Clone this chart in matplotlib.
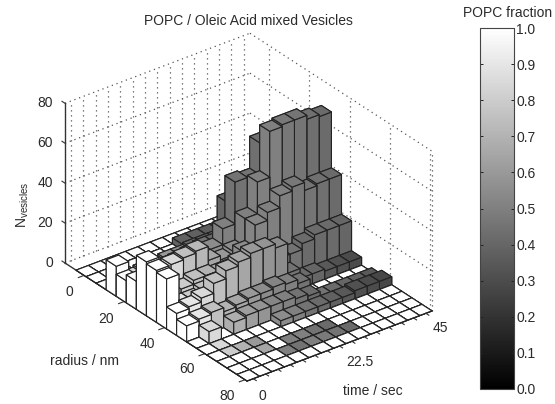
import numpy as np
import matplotlib
matplotlib.use('Agg')
import matplotlib.pyplot as plt
from mpl_toolkits.mplot3d import proj3d

plt.rcParams['font.family'] = ['Liberation Sans', 'DejaVu Sans']

radius_centers = [-1.5, 3.5, 8.5, 13.5, 18.5, 23.5, 28.5, 33.5, 38.5, 43.5, 48.5, 53.5, 58.5, 63.5, 68.5, 73.5, 78.5]
time_centers = [0, 3.214, 6.429, 9.643, 12.857, 16.071, 19.286, 22.5, 25.714, 28.929, 32.143, 35.357, 38.571, 41.786, 45]
radius_ticks = [0, 20, 40, 60, 80]
time_labels = {0: '0', 7: '22.5', 14: '45'}
count_ticks = [0, 20, 40, 60, 80]
cbar_ticks = [0.0, 0.1, 0.2, 0.3, 0.4, 0.5, 0.6, 0.7, 0.8, 0.9, 1.0]

# rows = radius bins, columns = time bins
n_vesicles = [
    [0, 0, 0, 0, 0, 0, 0, 0, 0, 0, 0, 0, 0, 0, 0],
    [0, 0, 0, 0, 0, 0, 0, 3, 3, 3, 3, 3, 3, 3, 3],
    [0, 0, 1, 2, 2, 3, 3, 4, 4, 4, 4, 5, 5, 5, 5],
    [15, 0, 3, 4, 5, 6, 7, 8, 8, 26, 26, 26, 26, 26, 26],
    [11, 2, 5, 7, 8, 9, 10, 10, 10, 12, 30, 30, 30, 28, 28],
    [14, 6, 14, 16, 14, 14, 16, 24, 45, 44, 60, 60, 60, 58, 55],
    [27, 8, 21, 22, 23, 16, 14, 16, 30, 46, 69, 70, 70, 68, 67],
    [26, 8, 12, 14, 14, 13, 13, 19, 30, 34, 40, 42, 38, 39, 39],
    [25, 10, 10, 12, 14, 16, 18, 20, 12, 14, 14, 17, 19, 19, 19],
    [11, 12, 14, 19, 23, 25, 27, 27, 25, 10, 5, 5, 4, 4, 4],
    [8, 9, 10, 8, 9, 10, 10, 11, 10, 8, 0, 0, 0, 0, 0],
    [0, 6, 0, 6, 7, 7, 7, 7, 6, 5, 2, 2, 2, 2, 2],
    [0, 0, 0, 0, 0, 0, 3, 3, 3, 3, 3, 3, 4, 4, 4],
    [0, 0, 0, 0, 0, 0, 0, 0, 0, 0, 0, 0, 0, 0, 0],
    [0, 0, 0, 0, 0, 0, 0, 0, 0, 0, 0, 0, 0, 0, 0],
    [0, 0, 0, 0, 0, 0, 0, 0, 0, 0, 0, 0, 0, 0, 0],
    [0, 0, 0, 0, 0, 0, 0, 0, 0, 0, 0, 0, 0, 0, 0],
]
popc_fraction = [
    [1, 1, 1, 1, 1, 1, 1, 1, 1, 1, 1, 1, 1, 1, 1],
    [1, 1, 0.9, 1, 1, 1, 1, 0.38, 0.38, 0.36, 0.36, 0.36, 0.36, 0.36, 0.36],
    [1, 1, 0.85, 0.8, 0.75, 0.6, 0.55, 0.4, 0.4, 0.4, 0.4, 0.4, 0.4, 0.4, 0.4],
    [1, 1, 0.85, 0.75, 0.7, 0.6, 0.55, 0.45, 0.4, 0.4, 0.4, 0.4, 0.4, 0.4, 0.4],
    [1, 1, 0.85, 0.75, 0.7, 0.6, 0.55, 0.45, 0.42, 0.4, 0.4, 0.4, 0.4, 0.4, 0.4],
    [1, 1, 0.8, 0.75, 0.7, 0.6, 0.55, 0.5, 0.45, 0.45, 0.44, 0.44, 0.42, 0.42, 0.42],
    [1, 0.95, 0.85, 0.75, 0.72, 0.65, 0.6, 0.55, 0.5, 0.5, 0.5, 0.47, 0.46, 0.44, 0.42],
    [1, 0.9, 0.8, 0.75, 0.7, 0.65, 0.6, 0.55, 0.52, 0.5, 0.5, 0.47, 0.46, 0.44, 0.42],
    [1, 0.9, 0.8, 0.75, 0.7, 0.65, 0.6, 0.55, 0.5, 0.5, 0.45, 0.42, 0.42, 0.42, 0.4],
    [1, 0.9, 0.85, 0.75, 0.7, 0.65, 0.6, 0.58, 0.55, 0.45, 0.42, 0.4, 0.35, 0.32, 0.3],
    [1, 0.9, 0.75, 0.7, 0.65, 0.6, 0.55, 0.52, 0.5, 0.45, 1, 1, 1, 1, 1],
    [1, 0.85, 1, 0.68, 0.62, 0.58, 0.52, 0.5, 0.45, 0.42, 0.45, 0.42, 0.4, 0.38, 0.35],
    [1, 0.85, 1, 1, 1, 1, 0.55, 0.5, 0.45, 0.42, 0.38, 0.35, 0.32, 0.3, 0.28],
    [1, 0.8, 0.7, 0.6, 1, 1, 1, 1, 1, 1, 1, 1, 1, 1, 1],
    [1, 1, 1, 0.65, 1, 0.5, 0.5, 0.45, 0.42, 1, 1, 1, 1, 1, 1],
    [1, 1, 1, 1, 0.5, 0.45, 0.5, 0.48, 0.45, 0.42, 1, 1, 1, 1, 1],
    [1, 1, 1, 1, 1, 1, 1, 1, 1, 1, 1, 1, 1, 1, 1],
]

W, H = 555, 404
xmin, xmax = -9.5, 81
dt = time_centers[1] - time_centers[0]
ymin, ymax = -dt / 2, 45 + dt / 2
zmin, zmax = 0, 80
grid_color = '#555555'
line_color = '#333333'
text_color = '#2a2a2a'
dots = (0, (1, 3))

fig = plt.figure(figsize=(W / 100, H / 100), dpi=100)
ax = fig.add_axes([0, 0, 1, 1], projection='3d', proj_type='ortho')
ax.computed_zorder = False
ax.view_init(elev=29.7, azim=-37.4)
ax.set_xlim(xmin, xmax)
ax.set_ylim(ymin, ymax)
ax.set_zlim(zmin, zmax)
ax.set_box_aspect((300, 233, 184), zoom=1.0)
ax.set_axis_off()
ax.patch.set_alpha(0)


def to_px(x, y, z):
    xs, ys, _ = proj3d.proj_transform(x, y, z, ax.get_proj())
    p = ax.transData.transform((xs, ys))
    return p[0], H - p[1]


# place the box so its floor corners land where the reference has them
side = 555.0
ax.set_position([0, 0, side / W, side / H])
ax.apply_aspect()
x0, y0 = to_px(xmin, ymin, 0)
x2, y2 = to_px(xmax, ymax, 0)
side = side * (432 - 65) / (x2 - x0)
ax.set_position([0, 0, side / W, side / H])
ax.apply_aspect()
x0, y0 = to_px(xmin, ymin, 0)
ax.set_position([(65 - x0) / W, (y0 - 263) / H, side / W, side / H])
ax.apply_aspect()

# walls
z_order = 1
for z in count_ticks:
    ax.plot([xmin, xmin], [ymin, ymax], [z, z], linestyle=dots, color=grid_color, lw=0.9, zorder=z_order)
    ax.plot([xmin, xmax], [ymax, ymax], [z, z], linestyle=dots, color=grid_color, lw=0.9, zorder=z_order)
for t in time_centers:
    ax.plot([xmin, xmin], [t, t], [zmin, zmax], linestyle=dots, color=grid_color, lw=0.9, zorder=z_order)
for r in radius_ticks + [xmax]:
    ax.plot([r, r], [ymax, ymax], [zmin, zmax], linestyle=dots, color=grid_color, lw=0.9, zorder=z_order)

# axis lines and ticks
ax.plot([xmin, xmin], [ymin, ymin], [zmin, zmax], color=line_color, lw=1.0, zorder=2)
ax.plot([xmin, xmax], [ymin, ymin], [0, 0], color=line_color, lw=1.0, zorder=2)
ax.plot([xmax, xmax], [ymin, ymax], [0, 0], color=line_color, lw=1.0, zorder=2)
for z in count_ticks:
    ax.plot([xmin, xmin - 1.5], [ymin, ymin], [z, z], color=line_color, lw=0.8, zorder=2)
for r in radius_ticks:
    ax.plot([r, r], [ymin, ymin - 1.5], [0, 0], color=line_color, lw=0.8, zorder=2)

# bars, far to near
for k in range(len(radius_centers)):
    for j in range(len(time_centers) - 1, -1, -1):
        z_order += 1
        ax.bar3d(radius_centers[k] - 2.5, time_centers[j] - dt / 2, 0, 5, dt, n_vesicles[k][j],
                 color=plt.cm.gray(float(popc_fraction[k][j])), edgecolor='#222222', linewidth=0.8,
                 shade=False, zorder=z_order + 10)
for t in time_centers:
    ax.plot([xmax, xmax + 1.5], [t, t], [0, 0], color=line_color, lw=0.8, zorder=z_order + 20, clip_on=False)


def label(x, y, s, **kw):
    fig.text(x / W, 1 - y / H, s, color=text_color, ha='center', va='center', **kw)


fs = 10
label(248, 21, 'POPC / Oleic Acid mixed Vesicles', fontsize=fs)
for z, y in zip(count_ticks, [263, 223, 183, 143, 103]):
    fig.text(53 / W, 1 - y / H, str(z), color=text_color, ha='right', va='center', fontsize=fs)
label(23, 205, r'N$_{\mathregular{vesicles}}$', fontsize=fs, rotation=90)
for r, (x, y) in zip(radius_ticks, [(69, 292), (106, 319), (147, 344), (187, 369), (227, 396)]):
    label(x, y, str(r), fontsize=fs)
label(84, 361, 'radius / nm', fontsize=fs)
for j, (x, y) in zip(time_labels, [(262, 396), (360, 362), (440, 328)]):
    label(x, y, time_labels[j], fontsize=fs)
label(373, 391, 'time / sec', fontsize=fs)

# colour bar
cax = fig.add_axes([480 / W, 1 - 389 / H, 34 / W, 361 / H])
sm = plt.cm.ScalarMappable(norm=plt.Normalize(0, 1), cmap='gray')
cb = fig.colorbar(sm, cax=cax, ticks=cbar_ticks)
cb.outline.set_edgecolor('#444444')
cb.outline.set_linewidth(0.8)
cax.tick_params(direction='in', left=True, right=True, length=2.5, width=0.7, color='#222222', pad=1.5,
                labelsize=fs, labelcolor=text_color)
cax.set_yticklabels(['%.1f' % v for v in cbar_ticks])
label(508, 13, 'POPC fraction', fontsize=fs)

plt.savefig('out.png', dpi=100)
